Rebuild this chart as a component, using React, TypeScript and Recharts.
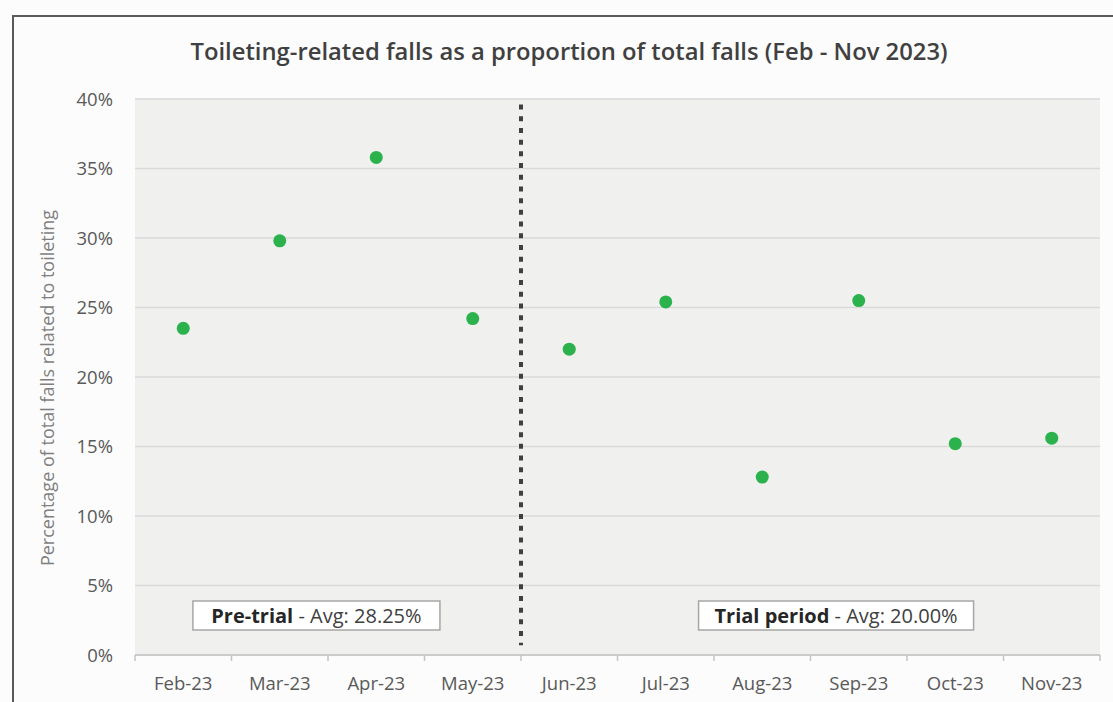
import { ScatterChart, Scatter, XAxis, YAxis, CartesianGrid, ReferenceLine, ReferenceArea, Label } from 'recharts';

const months = ['Feb-23', 'Mar-23', 'Apr-23', 'May-23', 'Jun-23', 'Jul-23', 'Aug-23', 'Sep-23', 'Oct-23', 'Nov-23'];
const toiletingShare = [23.5, 29.8, 35.8, 24.2, 22.0, 25.4, 12.8, 25.5, 15.2, 15.6];
const yTicks = [0, 5, 10, 15, 20, 25, 30, 35, 40];
const periods = [
  { name: 'Pre-trial', avg: '28.25%' },
  { name: 'Trial period', avg: '20.00%' },
];

// every point sits in the middle of its month slot
const data = months.map((m, i) => ({ month: m, x: i + 0.5, y: toiletingShare[i] }));
// slot boundaries get tick marks, slot centres get the labels
const xTicks = months.flatMap((_, i) => [i, i + 0.5]).concat(months.length);

const FONT = '"Open Sans", sans-serif';

const MonthTick = (props: any) => {
  const { x, y, payload } = props;
  const v = payload.value as number;
  if (Number.isInteger(v)) {
    return <line x1={x} x2={x} y1={y} y2={y + 6} stroke="#c4c4c4" strokeWidth={1.5} />;
  }
  return (
    <text x={x} y={y + 35} textAnchor="middle" fill="#595959" fontSize={18.5} fontFamily={FONT}>
      {months[Math.floor(v)]}
    </text>
  );
};

const boxLabel = (name: string, avg: string) => (props: any) => {
  const { x, y, width, height } = props.viewBox;
  return (
    <text x={x + width / 2} y={y + height / 2 + 7} textAnchor="middle" fontSize={20} fontFamily={FONT}>
      <tspan fontWeight={700} fill="#262626">{name}</tspan>
      <tspan fill="#404040"> - Avg: {avg}</tspan>
    </text>
  );
};

const Dot = (props: any) => <circle cx={props.cx} cy={props.cy} r={6.5} fill="#2bb24c" />;

export default function App() {
  return (
    <div style={{ position: 'absolute', left: 0, top: 0, width: 1113, height: 702, background: '#fcfcfc', overflow: 'hidden' }}>
      <div style={{ position: 'absolute', left: 12, top: 15, width: 1200, height: 800, borderLeft: '2px solid #5a5a5a', borderTop: '2px solid #5a5a5a' }} />
      <div style={{ position: 'absolute', left: 0, top: 35, width: 1138, textAlign: 'center', fontFamily: FONT, fontWeight: 600, fontSize: 23.8, color: '#404040' }}>
        Toileting-related falls as a proportion of total falls (Feb - Nov 2023)
      </div>
      <div style={{ position: 'absolute', left: 0, top: 0 }}>
        <ScatterChart width={1113} height={702} margin={{ top: 99, right: 13, bottom: 17, left: 40 }}>
          <CartesianGrid vertical={false} stroke="#d9d9d9" strokeWidth={1.5} fill="#f0f1ef" />
          <XAxis
            type="number"
            dataKey="x"
            domain={[0, months.length]}
            ticks={xTicks}
            interval={0}
            tick={<MonthTick />}
            tickLine={false}
            tickSize={0}
            tickMargin={0}
            height={30}
            axisLine={{ stroke: '#c4c4c4', strokeWidth: 1.5 }}
            allowDataOverflow
          />
          <YAxis
            type="number"
            dataKey="y"
            domain={[0, 40]}
            ticks={yTicks}
            interval={0}
            tickFormatter={(v) => `${v}%`}
            axisLine={false}
            tickLine={false}
            tickSize={0}
            tickMargin={22}
            width={95}
            tick={{ fill: '#595959', fontSize: 18.5, fontFamily: FONT }}
          >
            <Label
              content={(p: any) => {
                const cx = p.viewBox.x + 7;
                const cy = p.viewBox.y + p.viewBox.height / 2 + 11;
                return (
                  <text x={cx} y={cy} transform={`rotate(-90 ${cx} ${cy})`} textAnchor="middle" dominantBaseline="central" fill="#7f7f7f" fontSize={18} fontFamily={FONT}>
                    Percentage of total falls related to toileting
                  </text>
                );
              }}
            />
          </YAxis>
          <ReferenceLine
            segment={[{ x: 4, y: 39.6 }, { x: 4, y: 0.7 }]}
            stroke="#404040"
            strokeWidth={4}
            strokeDasharray="5 6.7"
          />
          <ReferenceArea x1={0.6} x2={3.16} y1={1.8} y2={3.88} fill="#ffffff" fillOpacity={1} stroke="#a6a6a6" strokeWidth={1.5}>
            <Label content={boxLabel(periods[0].name, periods[0].avg)} />
          </ReferenceArea>
          <ReferenceArea x1={5.84} x2={8.69} y1={1.8} y2={3.88} fill="#ffffff" fillOpacity={1} stroke="#a6a6a6" strokeWidth={1.5}>
            <Label content={boxLabel(periods[1].name, periods[1].avg)} />
          </ReferenceArea>
          <Scatter data={data} shape={<Dot />} isAnimationActive={false} />
        </ScatterChart>
      </div>
    </div>
  );
}
